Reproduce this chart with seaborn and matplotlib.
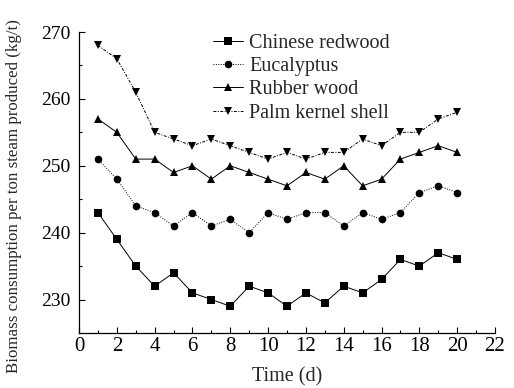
import matplotlib
matplotlib.use("Agg")
import matplotlib.pyplot as plt
from matplotlib.ticker import MultipleLocator
import seaborn as sns
import pandas as pd

days = list(range(1, 21))
chinese_redwood = [243, 239, 235, 232, 234, 231, 230, 229, 232, 231,
                   229, 231, 229.5, 232, 231, 233, 236, 235, 237, 236]
eucalyptus = [251, 248, 244, 243, 241, 243, 241, 242, 240, 243,
              242, 243, 243, 241, 243, 242, 243, 246, 247, 246]
rubber_wood = [257, 255, 251, 251, 249, 250, 248, 250, 249, 248,
               247, 249, 248, 250, 247, 248, 251, 252, 253, 252]
palm_kernel_shell = [268, 266, 261, 255, 254, 253, 254, 253, 252, 251,
                     252, 251, 252, 252, 254, 253, 255, 255, 257, 258]

series_names = ["Chinese redwood", "Eucalyptus", "Rubber wood", "Palm kernel shell"]
series_values = [chinese_redwood, eucalyptus, rubber_wood, palm_kernel_shell]
x_ticks = [0, 2, 4, 6, 8, 10, 12, 14, 16, 18, 20, 22]
y_ticks = [230, 240, 250, 260, 270]

sns.set_theme(style="ticks")
plt.rcParams["font.family"] = ["Liberation Serif", "DejaVu Serif"]

fig = plt.figure(figsize=(5.14, 3.88), dpi=100)
ax = fig.add_axes([0.1537, 0.1418, 0.8093, 0.7757])

markers = ["s", "o", "^", "v"]
linestyles = ["-", (0, (1, 1.5)), "-", (0, (3, 1.5, 1, 1.5))]

for name, vals, mk, ls in zip(series_names, series_values, markers, linestyles):
    df = pd.DataFrame({"day": days, "value": vals})
    sns.lineplot(data=df, x="day", y="value", ax=ax, color="black",
                 marker=mk, markersize=5.5, markeredgewidth=0,
                 linewidth=0.7, linestyle=ls, label=name)

ax.set_xlim(0, 22)
ax.set_ylim(225, 270)
ax.set_xticks(x_ticks)
ax.set_yticks(y_ticks)
ax.xaxis.set_minor_locator(MultipleLocator(1))
ax.yaxis.set_minor_locator(MultipleLocator(5))
ax.tick_params(axis="both", which="major", direction="in", length=4,
               width=0.8, pad=4, colors="black")
ax.tick_params(axis="x", which="major", labelsize=15, pad=3)
ax.tick_params(axis="y", which="major", labelsize=14, pad=6)
ax.tick_params(axis="both", which="minor", direction="in", length=2.5,
               width=0.8, colors="black")
for s in ["top", "right"]:
    ax.spines[s].set_visible(False)
for s in ["left", "bottom"]:
    ax.spines[s].set_linewidth(0.9)
    ax.spines[s].set_color("black")

ax.set_xlabel("Time (d)", fontsize=14.5)
ax.set_ylabel("Biomass consumption per ton steam produced (kg/t)", fontsize=12.2)
ax.xaxis.set_label_coords(0.5, -0.113)
ax.yaxis.set_label_coords(-0.137, 0.455)

leg = ax.legend(loc="upper left", bbox_to_anchor=(0.322, 0.995), frameon=False,
                fontsize=14.5, handlelength=1.5, handletextpad=0.3,
                labelspacing=0.21, borderpad=0.0, borderaxespad=0.0)

fig.savefig("out.png", dpi=100)
